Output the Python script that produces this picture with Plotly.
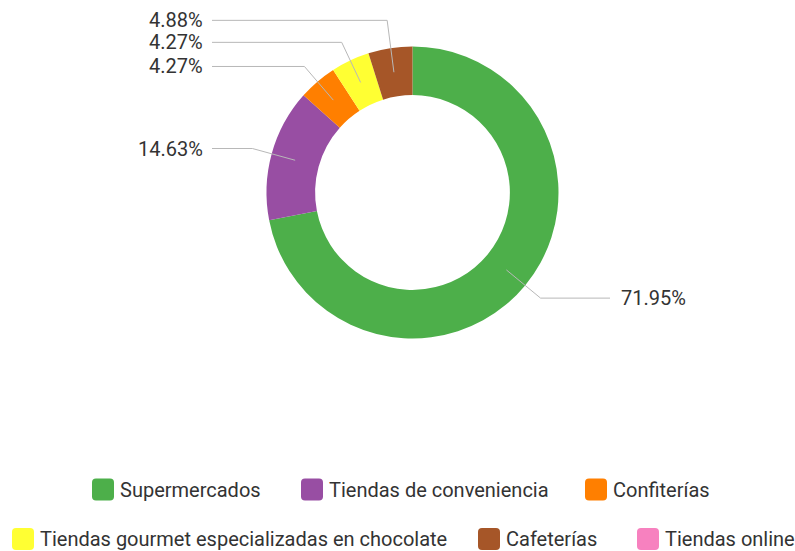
import math
import plotly.graph_objects as go

# Sales channel shares
categories = [
    "Supermercados",
    "Tiendas de conveniencia",
    "Confiterías",
    "Tiendas gourmet especializadas en chocolate",
    "Cafeterías",
    "Tiendas online",
]
values = [118, 24, 7, 7, 8, 0]
colors = ["#4DAF4A", "#984EA3", "#FF7F00", "#FFFF33", "#A65628", "#F781BF"]

# Canvas and donut geometry (pixels)
W, H = 795, 551
CX, CY = 412.5, 192.5
R = 146.0
HOLE = 0.667
R_MID = R * (1 + HOLE) / 2
R_ELBOW = 166.0
LEFT_END, RIGHT_END = 212.0, 610.0
LABEL_SPACING = 22.0
FONT = "Roboto"
FONT_SIZE = 20
TEXT_COLOR = "#333333"
LINE_COLOR = "#b8b8b8"

# Legend layout: (row, marker left x) for each entry
legend_rows = [0, 0, 0, 1, 1, 1]
legend_left = [92, 301, 585, 12, 478, 637]
ROW_Y = [489.5, 539.0]
SW = 22.0  # legend swatch size


def px(x):
    return x / W


def py(y):
    return 1 - y / H


fig = go.Figure()
fig.add_trace(go.Pie(
    labels=categories,
    values=values,
    marker=dict(colors=colors, line=dict(width=0)),
    hole=HOLE,
    sort=False,
    direction="clockwise",
    rotation=0,
    textinfo="none",
    showlegend=False,
    domain=dict(x=[px(CX - R), px(CX + R)], y=[py(CY + R), py(CY - R)]),
))

# Leader lines and percentage labels
total = sum(values)
items = []
cum = 0.0
for cat, v in zip(categories, values):
    if v <= 0:
        continue
    mid = (cum + v / 2) / total * 2 * math.pi
    cum += v
    sx, sy = CX + R_MID * math.sin(mid), CY - R_MID * math.cos(mid)
    ex, ey = CX + R_ELBOW * math.sin(mid), CY - R_ELBOW * math.cos(mid)
    items.append(dict(text=f"{100 * v / total:.2f}%", sx=sx, sy=sy, ex=ex, ey=ey,
                      right=math.sin(mid) >= 0))

for side in (True, False):
    group = sorted([it for it in items if it["right"] == side], key=lambda d: -d["ey"])
    prev = None
    for it in group:
        if prev is not None:
            it["ey"] = min(it["ey"], prev - LABEL_SPACING)
        prev = it["ey"]

shapes = []
annotations = []
for it in items:
    end_x = RIGHT_END if it["right"] else LEFT_END
    path = (f"M {px(it['sx'])},{py(it['sy'])} L {px(it['ex'])},{py(it['ey'])} "
            f"L {px(end_x)},{py(it['ey'])}")
    shapes.append(dict(type="path", xref="paper", yref="paper", path=path,
                       line=dict(color=LINE_COLOR, width=1)))
    annotations.append(dict(
        x=px(end_x + 9 if it["right"] else end_x - 7), y=py(it["ey"]),
        xref="paper", yref="paper", showarrow=False,
        xanchor="left" if it["right"] else "right", yanchor="middle",
        text=it["text"], font=dict(family=FONT, size=FONT_SIZE, color=TEXT_COLOR),
    ))

# Custom legend with rounded swatches
rx, ry = 4 / W, 4 / H
for cat, col, row, left in zip(categories, colors, legend_rows, legend_left):
    cy = ROW_Y[row]
    x0, x1 = px(left), px(left + SW)
    y0, y1 = py(cy + SW / 2), py(cy - SW / 2)
    path = (f"M {x0 + rx},{y0} L {x1 - rx},{y0} Q {x1},{y0} {x1},{y0 + ry} "
            f"L {x1},{y1 - ry} Q {x1},{y1} {x1 - rx},{y1} L {x0 + rx},{y1} "
            f"Q {x0},{y1} {x0},{y1 - ry} L {x0},{y0 + ry} Q {x0},{y0} {x0 + rx},{y0} Z")
    shapes.append(dict(type="path", xref="paper", yref="paper", path=path,
                       fillcolor=col, line=dict(width=0)))
    annotations.append(dict(
        x=px(left + SW + 4), y=py(cy), xref="paper", yref="paper",
        showarrow=False, xanchor="left", yanchor="middle", text=cat,
        font=dict(family=FONT, size=FONT_SIZE, color=TEXT_COLOR),
    ))

fig.update_layout(
    width=W, height=H,
    margin=dict(l=0, r=0, t=0, b=0),
    paper_bgcolor="white", plot_bgcolor="white",
    shapes=shapes, annotations=annotations,
    showlegend=False,
)

fig.write_html("out.html")
